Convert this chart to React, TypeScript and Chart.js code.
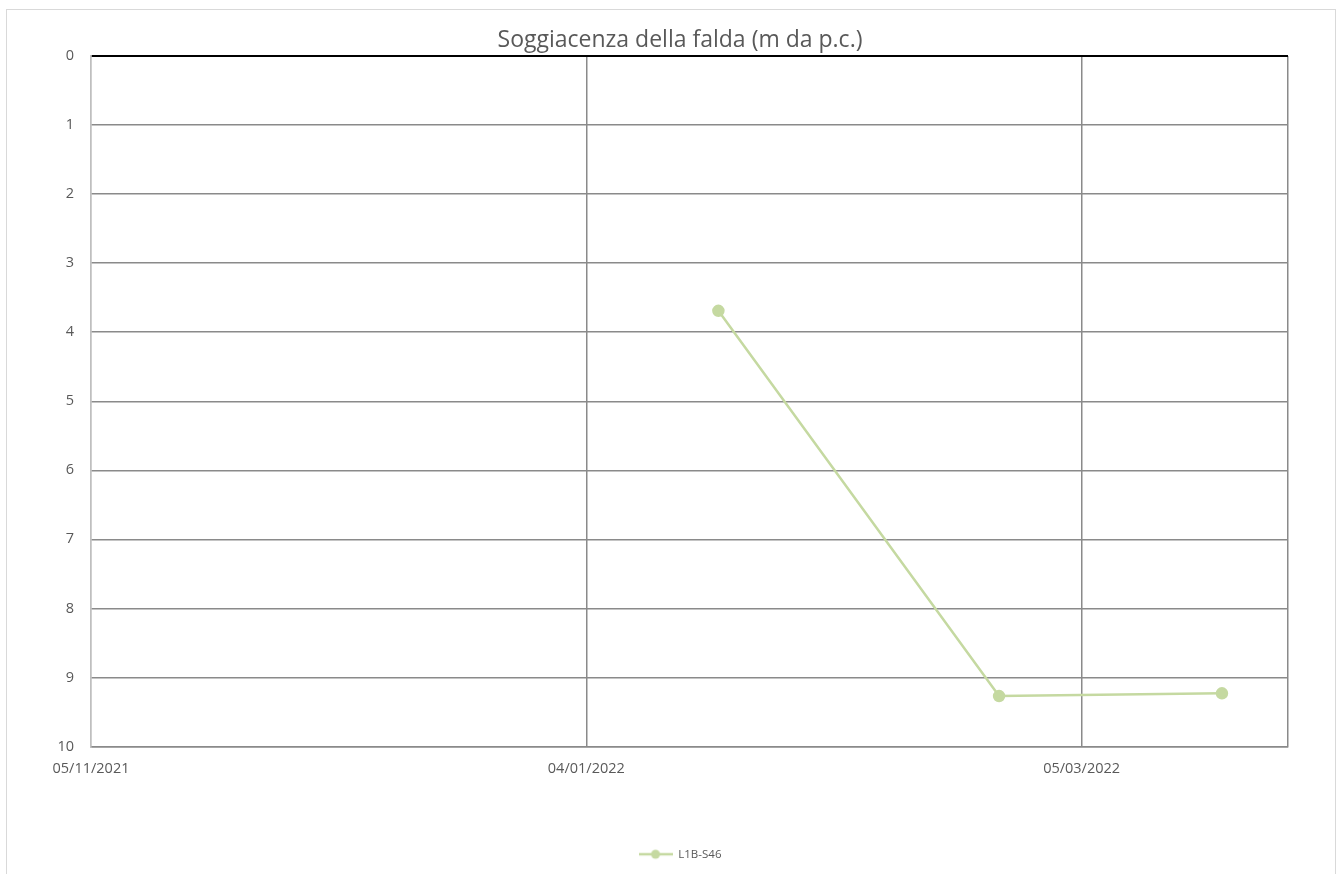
import React, { useEffect, useRef } from "react";
import { Chart, registerables } from "chart.js";

Chart.register(...registerables);

const TITLE = "Soggiacenza della falda (m da p.c.)";
const SERIES_NAME = "L1B-S46";
const DATES = ["2022-01-20", "2022-02-23", "2022-03-22"];
const DEPTHS = [3.69, 9.27, 9.23];
const X_TICK_DATES = ["2021-11-05", "2022-01-04", "2022-03-05"];
const X_MIN = "2021-11-05";
const X_MAX = "2022-03-30";
const Y_MIN = 0;
const Y_MAX = 10;

const toTs = (s: string) => {
  const [y, m, d] = s.split("-").map(Number);
  return Date.UTC(y, m - 1, d);
};
const fmt = (v: number) => {
  const d = new Date(v);
  const dd = String(d.getUTCDate()).padStart(2, "0");
  const mm = String(d.getUTCMonth() + 1).padStart(2, "0");
  return `${dd}/${mm}/${d.getUTCFullYear()}`;
};

const LINE_COLOR = "#c5d9a1";
const TEXT_COLOR = "#595959";
const GRID_COLOR = "#8a8a8a";

function legendMarker(): HTMLCanvasElement {
  const c = document.createElement("canvas");
  c.width = 34;
  c.height = 12;
  const g = c.getContext("2d")!;
  g.strokeStyle = LINE_COLOR;
  g.lineWidth = 2.5;
  g.beginPath();
  g.moveTo(0, 6);
  g.lineTo(34, 6);
  g.stroke();
  g.fillStyle = LINE_COLOR;
  g.beginPath();
  g.arc(17, 6, 4.5, 0, Math.PI * 2);
  g.fill();
  return c;
}

export default function App() {
  const ref = useRef<HTMLCanvasElement>(null);
  useEffect(() => {
    if (!ref.current) return;
    const font = "'Open Sans', 'Liberation Sans', sans-serif";
    const xMin = toTs(X_MIN);
    const xMax = toTs(X_MAX);
    const marker = legendMarker();
    const chart = new Chart(ref.current, {
      type: "line",
      data: {
        datasets: [
          {
            label: SERIES_NAME,
            data: DATES.map((d, i) => ({ x: toTs(d), y: DEPTHS[i] })),
            borderColor: LINE_COLOR,
            backgroundColor: LINE_COLOR,
            borderWidth: 2.5,
            pointRadius: 5,
            pointStyle: "circle",
            tension: 0,
            yAxisID: "y",
          },
        ],
      },
      options: {
        animation: false,
        responsive: false,
        layout: { padding: { left: 50, right: 29, top: 0, bottom: 4 } },
        plugins: {
          title: {
            display: true,
            text: TITLE,
            color: TEXT_COLOR,
            font: { family: font, size: 23, weight: "normal" },
            padding: { top: 27, bottom: 1.4 },
          },
          legend: {
            position: "bottom",
            labels: {
              usePointStyle: true,
              pointStyle: marker as any,
              pointStyleWidth: 34,
              color: TEXT_COLOR,
              font: { family: font, size: 11.5 },
              padding: 10,
            },
          },
          tooltip: { enabled: false },
        },
        scales: {
          x: {
            type: "linear",
            min: xMin,
            max: xMax,
            afterBuildTicks: (scale: any) => {
              scale.ticks = [...X_TICK_DATES.map((d) => ({ value: toTs(d) })), { value: xMax }];
            },
            afterFit: (scale: any) => {
              scale.height = 92;
            },
            ticks: {
              color: TEXT_COLOR,
              font: { family: font, size: 14.5 },
              maxRotation: 0,
              autoSkip: false,
              padding: 14,
              callback: (v: any) => (v === xMax ? "" : fmt(Number(v))),
            },
            grid: {
              color: (ctx: any) => (ctx.index === 0 ? "#bfbfbf" : GRID_COLOR),
              lineWidth: 1.5,
              drawTicks: false,
            },
            border: { display: true, color: GRID_COLOR, width: 1.5 },
          },
          y: {
            type: "linear",
            position: "left",
            reverse: true,
            min: Y_MIN,
            max: Y_MAX,
            afterFit: (scale: any) => {
              scale.width = 41;
            },
            ticks: {
              stepSize: 1,
              color: TEXT_COLOR,
              font: { family: font, size: 14.5 },
              padding: 17,
            },
            grid: {
              color: (ctx: any) => (ctx.tick && ctx.tick.value === 0 ? "#000000" : GRID_COLOR),
              lineWidth: (ctx: any) => (ctx.tick && ctx.tick.value === 0 ? 2 : 1.5),
              drawTicks: false,
            },
            border: { display: true, color: "#bfbfbf", width: 1.5 },
          },
          yRight: {
            type: "linear",
            position: "right",
            display: true,
            min: Y_MIN,
            max: Y_MAX,
            afterFit: (scale: any) => {
              scale.width = 22;
            },
            ticks: { display: false },
            grid: { display: false, drawOnChartArea: false },
            border: { display: false },
          },
        },
      },
    });
    return () => chart.destroy();
  }, []);
  return (
    <div style={{ position: "absolute", left: 0, top: 0, width: 1339, height: 874, background: "#fff" }}>
      <div
        style={{
          position: "absolute",
          left: 6,
          top: 9,
          width: 1330,
          height: 900,
          border: "1px solid #d9d9d9",
          boxSizing: "border-box",
        }}
      />
      <canvas ref={ref} width={1339} height={874} style={{ position: "absolute", left: 0, top: 0 }} />
    </div>
  );
}
